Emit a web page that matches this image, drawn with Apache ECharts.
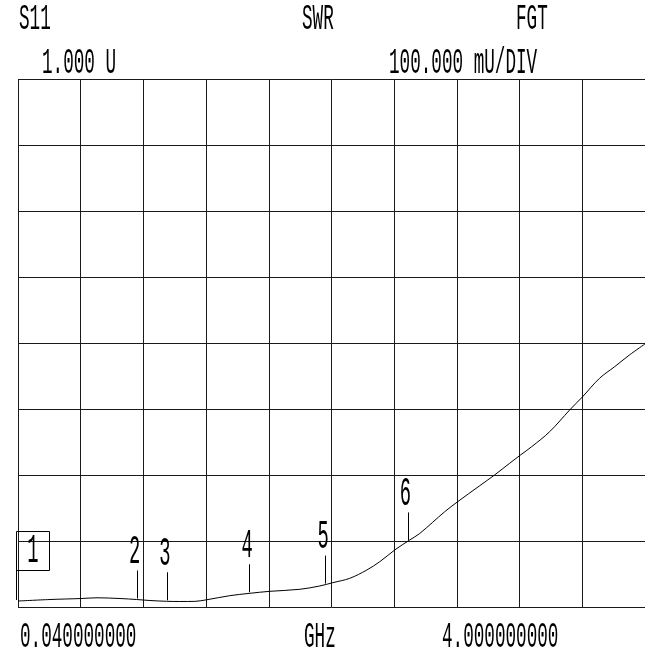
<!DOCTYPE html>
<html>
<head>
<meta charset="utf-8">
<script src="https://cdn.jsdelivr.net/npm/echarts@6/dist/echarts.min.js"></script>
<style>
html,body{margin:0;padding:0;background:#fff;}
#chart{width:645px;height:650px;}
</style>
</head>
<body>
<div id="chart"></div>
<script>
// Trace: frequency (GHz) and SWR values
const freqGHz = [0.040, 0.242, 0.438, 0.539, 0.684, 0.789, 0.873, 0.978, 1.062, 1.157, 1.233, 1.378, 1.504, 1.630, 1.820, 1.946, 2.028, 2.135, 2.243, 2.325, 2.419, 2.514, 2.577, 2.735, 2.817, 2.956, 3.050, 3.145, 3.214, 3.284, 3.398, 3.524, 3.606, 3.713, 3.808, 3.902, 4.000];
const swrValues = [1.0095, 1.0118, 1.0133, 1.0144, 1.0133, 1.0118, 1.0103, 1.0091, 1.0088, 1.0090, 1.0115, 1.0176, 1.0212, 1.0242, 1.0273, 1.0323, 1.0373, 1.0439, 1.0565, 1.0691, 1.0868, 1.1020, 1.1118, 1.1448, 1.1600, 1.1842, 1.2005, 1.2182, 1.2308, 1.2433, 1.2661, 1.2989, 1.3191, 1.3470, 1.3645, 1.3823, 1.3990];

// Markers
const markerLabels = ['1', '2', '3', '4', '5', '6'];
const markerFreq = [0.04, 0.79, 0.98, 1.50, 1.98, 2.50];
const markerSwr = [1.0095, 1.0118, 1.0091, 1.0212, 1.0344, 1.0998];

// Axis settings
const startFreq = 0.04, stopFreq = 4.0;
const refValue = 1.0, perDiv = 0.1, yDivs = 8, xDivs = 10;

// Annotation texts
const headerTexts = ['S11', 'SWR', 'FGT'];
const scaleTexts = ['1.000 U', '100.000 mU/DIV'];
const footerTexts = ['0.040000000', 'GHz', '4.000000000'];

const FONT = '"Liberation Mono", "DejaVu Sans Mono", monospace';
const SX = 0.49;
const SIZE = 36;

const chart = echarts.init(document.getElementById('chart'), null, {renderer: 'canvas'});

function txt(str, x, y) {
  return {
    type: 'text', x: x, y: y, scaleX: SX, scaleY: 1,
    style: {text: str, x: 0, y: 0, font: SIZE + 'px ' + FONT, fill: '#000', align: 'left', verticalAlign: 'bottom'}
  };
}

const gridLine = {show: true, lineStyle: {color: '#1a1a1a', width: 1}};

const option = {
  backgroundColor: '#fff',
  animation: false,
  grid: {left: 18, top: 79.3, width: 627.5, height: 528, containLabel: false},
  xAxis: [
    {type: 'value', min: startFreq, max: stopFreq, show: false, splitLine: {show: false}},
    {type: 'value', min: 0, max: xDivs, interval: 1, axisLabel: {show: false}, axisTick: {show: false},
     axisLine: {show: false}, splitLine: gridLine}
  ],
  yAxis: [
    {type: 'value', min: refValue, max: refValue + yDivs * perDiv, interval: perDiv,
     axisLabel: {show: false}, axisTick: {show: false}, axisLine: {show: false}, splitLine: gridLine}
  ],
  graphic: [
    txt(headerTexts[0], 19, 37),
    txt(headerTexts[1], 302, 37),
    txt(headerTexts[2], 516, 37),
    txt(scaleTexts[0], 42, 81),
    txt(scaleTexts[1], 389, 81),
    txt(footerTexts[0], 20, 655),
    txt(footerTexts[1], 304, 655),
    txt(footerTexts[2], 442, 655)
  ],
  series: [
    {
      type: 'line', xAxisIndex: 0, yAxisIndex: 0,
      data: freqGHz.map((f, i) => [f, swrValues[i]]),
      showSymbol: false, smooth: 0.35,
      lineStyle: {color: '#000', width: 1}
    },
    {
      type: 'custom', xAxisIndex: 0, yAxisIndex: 0, clip: false,
      data: markerFreq.map((f, i) => [f, markerSwr[i]]),
      renderItem: function (params, api) {
        const p = api.coord([api.value(0), api.value(1)]);
        const lab = markerLabels[params.dataIndex];
        const digitFont = '40px ' + FONT;
        if (params.dataIndex === 0) {
          return {
            type: 'group', children: [
              {type: 'rect', shape: {x: p[0] - 1.5, y: p[1] - 69.5, width: 33, height: 39},
               style: {fill: 'none', stroke: '#000', lineWidth: 1}},
              {type: 'line', shape: {x1: p[0] - 1.5, y1: p[1] - 68, x2: p[0] - 1.5, y2: p[1] - 1},
               style: {stroke: '#000', lineWidth: 1}},
              {type: 'text', x: p[0] + 15, y: p[1] - 30, scaleX: 0.47,
               style: {text: lab, x: 0, y: 0, font: digitFont, fill: '#000', align: 'center', verticalAlign: 'bottom'}}
            ]
          };
        }
        return {
          type: 'group', children: [
            {type: 'line', shape: {x1: Math.round(p[0]) + 0.5, y1: p[1] - 1, x2: Math.round(p[0]) + 0.5, y2: p[1] - 29},
             style: {stroke: '#000', lineWidth: 1}},
            {type: 'text', x: p[0] - 2, y: p[1] - 27, scaleX: 0.47,
             style: {text: lab, x: 0, y: 0, font: digitFont, fill: '#000', align: 'center', verticalAlign: 'bottom'}}
          ]
        };
      }
    }
  ]
};
chart.setOption(option);
</script>
</body>
</html>
